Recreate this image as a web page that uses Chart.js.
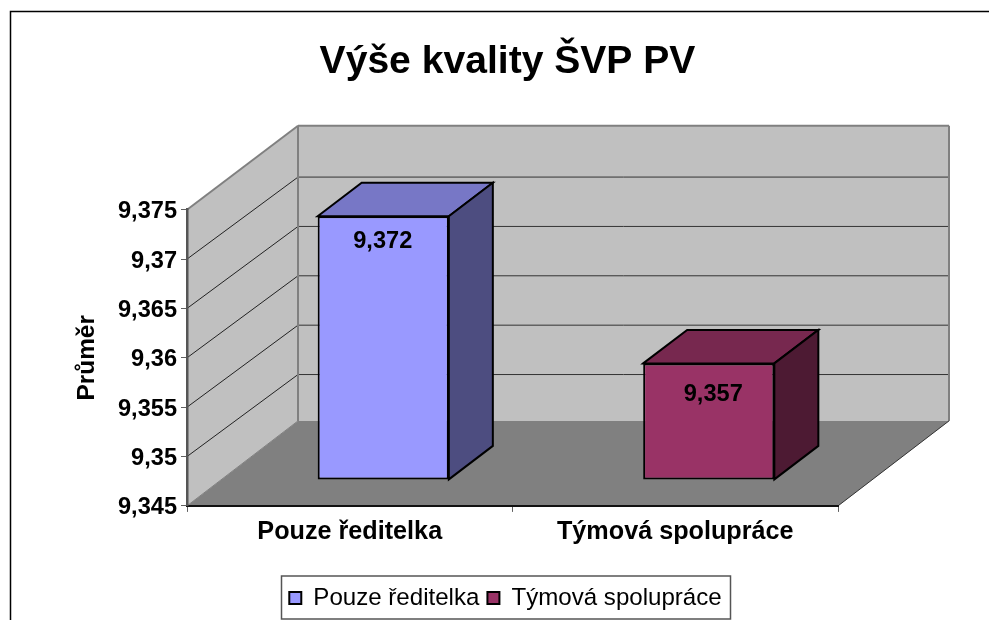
<!DOCTYPE html>
<html>
<head>
<meta charset="utf-8">
<style>html,body{margin:0;padding:0;background:#fff}canvas{display:block}</style>
<script src="https://cdn.jsdelivr.net/npm/chart.js@4"></script>
</head>
<body>
<div style="width:989px;height:620px"><canvas id="c" width="989" height="620"></canvas></div>
<script>
const chartTitle = 'Výše kvality ŠVP PV';
const yTitle = 'Průměr';
const categories = ['Pouze ředitelka', 'Týmová spolupráce'];
const seriesNames = ['Pouze ředitelka', 'Týmová spolupráce'];
const valuesA = [9.3717, null];
const valuesB = [null, 9.3568];
const yMin = 9.345;
const yMax = 9.375;
const yTickValues = [9.345, 9.35, 9.355, 9.36, 9.365, 9.37, 9.375];
const yTickLabels = ['9,345', '9,35', '9,355', '9,36', '9,365', '9,37', '9,375'];
const frontColors = ['#9999ff', '#993366'];
const topColors = ['#7777c6', '#77284f'];
const sideColors = ['#4d4d80', '#4d1a33'];
const FONT = '"Liberation Sans", Arial, sans-serif';

const WALL = {dx: 111, dy: 85, gridDy: 82};
const BAR_SHIFT = {x: 33.5, y: -26};
const BAR_DEPTH = {x: 44, y: 33.5};
const LABEL_OFFSET = [[-0.5, 25.5], [4.5, 31]];

function poly(ctx, pts, fill, stroke, lw) {
  ctx.beginPath();
  pts.forEach((p, i) => i ? ctx.lineTo(p[0], p[1]) : ctx.moveTo(p[0], p[1]));
  ctx.closePath();
  if (fill) { ctx.fillStyle = fill; ctx.fill(); }
  if (stroke) { ctx.strokeStyle = stroke; ctx.lineWidth = lw; ctx.lineJoin = 'miter'; ctx.stroke(); }
}
function line(ctx, a, b, c, lw) {
  ctx.beginPath(); ctx.moveTo(a[0], a[1]); ctx.lineTo(b[0], b[1]);
  ctx.strokeStyle = c; ctx.lineWidth = lw; ctx.stroke();
}

const box3d = {
  id: 'box3d',
  afterLayout(chart) {
    chart.titleBlock.left += 83.5; chart.titleBlock.right += 83.5;
    chart.legend.left += 81.5; chart.legend.right += 81.5;
  },
  beforeDraw(chart) {
    const ctx = chart.ctx, a = chart.chartArea, y = chart.scales.y;
    const L = a.left, R = a.right, T = a.top, B = a.bottom;
    const dx = WALL.dx, dy = WALL.dy;
    ctx.save();
    poly(ctx, [[L + dx, T - dy + 1], [R + dx, T - dy + 1], [R + dx, B - dy], [L + dx, B - dy]], '#c0c0c0');
    poly(ctx, [[L, T], [L + dx, T - dy + 1], [L + dx, B - dy], [L, B]], '#c0c0c0');
    poly(ctx, [[L, B], [L + dx, B - dy], [R + dx, B - dy], [R, B]], '#808080');
    yTickValues.slice(1, -1).forEach(v => {
      const py = y.getPixelForValue(v);
      line(ctx, [L, py], [L + dx, py - WALL.gridDy], '#222', 1);
      line(ctx, [L + dx, py - WALL.gridDy], [R + dx, py - WALL.gridDy], '#333', 1);
    });
    line(ctx, [L, T], [L + dx, T - dy + 1], '#808080', 2);
    line(ctx, [L + dx, T - dy + 1], [R + dx, T - dy + 1], '#808080', 2);
    line(ctx, [L + dx, T - dy + 1], [L + dx, B - dy], '#808080', 2);
    line(ctx, [R + dx, T - dy + 1], [R + dx, B - dy], '#808080', 2);
    line(ctx, [L, B], [L + dx, B - dy], '#808080', 1);
    line(ctx, [R, B], [R + dx, B - dy], '#333', 1);
    ctx.beginPath(); ctx.moveTo(10.5, 620); ctx.lineTo(10.5, 11.5); ctx.lineTo(989, 11.5);
    ctx.strokeStyle = '#000'; ctx.lineWidth = 1.5; ctx.stroke();
    ctx.restore();
  },
  beforeDatasetsDraw(chart) {
    const ctx = chart.ctx;
    ctx.save();
    chart.data.datasets.forEach((ds, i) => {
      chart.getDatasetMeta(i).data.forEach((bar, j) => {
        if (ds.data[j] == null) return;
        const l = bar.x - bar.width / 2 + BAR_SHIFT.x, r = bar.x + bar.width / 2 + BAR_SHIFT.x;
        const t = bar.y + BAR_SHIFT.y, b = bar.base + BAR_SHIFT.y;
        const ox = BAR_DEPTH.x, oy = BAR_DEPTH.y;
        poly(ctx, [[l, t], [l + ox, t - oy], [r + ox, t - oy], [r, t]], topColors[i], '#000', 2);
        poly(ctx, [[r, t], [r + ox, t - oy], [r + ox, b - oy], [r, b]], sideColors[i], '#000', 2);
      });
    });
    ctx.restore();
    ctx.save();
    ctx.translate(BAR_SHIFT.x, BAR_SHIFT.y);
  },
  afterDatasetsDraw(chart) {
    const ctx = chart.ctx;
    ctx.restore();
    ctx.save();
    ctx.font = 'bold 23.6px ' + FONT;
    ctx.fillStyle = '#000';
    ctx.textAlign = 'center';
    ctx.textBaseline = 'middle';
    chart.data.datasets.forEach((ds, i) => {
      chart.getDatasetMeta(i).data.forEach((bar, j) => {
        if (ds.data[j] == null) return;
        const txt = ds.data[j].toFixed(3).replace('.', ',');
        ctx.fillText(txt, bar.x + BAR_SHIFT.x + LABEL_OFFSET[i][0], bar.y + BAR_SHIFT.y + LABEL_OFFSET[i][1]);
      });
    });
    ctx.restore();
  },
  afterDraw(chart) {
    const ctx = chart.ctx, lg = chart.legend;
    const cx = (lg.left + lg.right) / 2, w = lg.lineWidths[0];
    ctx.save();
    ctx.strokeStyle = '#555';
    ctx.lineWidth = 1.5;
    ctx.strokeRect(Math.round(cx - 224.5) + .5, 576, 449, 43);
    ctx.restore();
  }
};

const barStyle = {borderColor: '#000', borderWidth: 2, borderSkipped: false, grouped: false, barPercentage: 0.403, categoryPercentage: 1, base: yMin, clip: false};

new Chart(document.getElementById('c'), {
  type: 'bar',
  data: {
    labels: categories,
    datasets: [
      Object.assign({label: seriesNames[0], data: valuesA, backgroundColor: frontColors[0]}, barStyle),
      Object.assign({label: seriesNames[1], data: valuesB, backgroundColor: frontColors[1]}, barStyle)
    ]
  },
  options: {
    responsive: false,
    animation: false,
    layout: {padding: {left: 10, right: 151, top: 0, bottom: 0}},
    scales: {
      x: {
        grid: {drawOnChartArea: false, drawTicks: true, tickLength: 6, color: '#606060', lineWidth: 1},
        border: {display: true, color: '#111', width: 2},
        ticks: {font: {family: FONT, size: 25.2, weight: 'bold'}, color: '#000', padding: 5, maxRotation: 0},
        afterFit(s) { s.height = 72; }
      },
      y: {
        min: yMin, max: yMax,
        afterBuildTicks(s) { s.ticks = yTickValues.map(v => ({value: v})); },
        grid: {drawOnChartArea: false, drawTicks: true, tickLength: 6, color: '#606060', lineWidth: 1},
        border: {display: true, color: '#555', width: 2.5},
        ticks: {
          font: {family: FONT, size: 23.6, weight: 'bold'}, color: '#000', padding: 4, labelOffset: 2,
          callback(v) { return yTickLabels[yTickValues.indexOf(+(+v).toFixed(3))]; }
        },
        title: {display: true, text: yTitle, font: {family: FONT, size: 24.4, weight: 'bold'}, color: '#000', padding: {top: 63, bottom: 0}},
        afterFit(s) { s.width = 177; }
      }
    },
    plugins: {
      title: {display: true, text: chartTitle, font: {family: FONT, size: 39.1, weight: 'bold'}, color: '#000', padding: {top: 39, bottom: 123.8}},
      legend: {
        display: true, position: 'bottom',
        labels: {font: {family: FONT, size: 24.1}, color: '#000', boxWidth: 12, boxHeight: 12, padding: 8}
      },
      tooltip: {enabled: false}
    }
  },
  plugins: [box3d]
});
</script>
</body>
</html>
